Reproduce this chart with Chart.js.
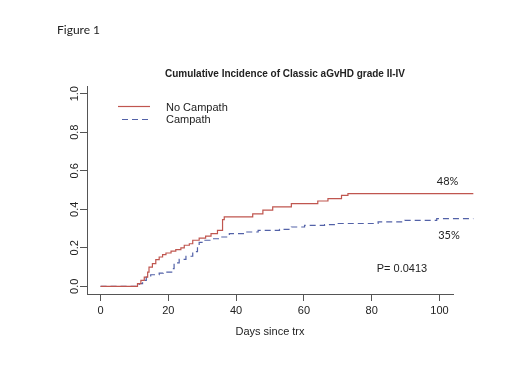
<!DOCTYPE html>
<html>
<head>
<meta charset="utf-8">
<script src="https://cdn.jsdelivr.net/npm/chart.js@4/dist/chart.umd.min.js"></script>
<style>
  html, body { margin: 0; padding: 0; background: #fff; }
  #wrap { width: 520px; height: 390px; }
</style>
</head>
<body>
<div id="wrap"><canvas id="ci-chart" width="520" height="390"></canvas></div>
<script>
// step points: day, cumulative incidence after the jump
const noCampathDays = [0, 10.9, 11.9, 12.9, 13.9, 14.3, 15.3, 16.3, 17.3, 18.3, 19.3, 20.8, 22.2, 23.7, 24.7, 26.2, 27.2, 29.1, 31.0, 32.6, 34.5, 36.0, 36.5, 44.9, 47.9, 50.8, 56.3, 64.1, 67.1, 71.1, 73.0, 110];
const noCampathCI   = [0, 0.014, 0.031, 0.048, 0.074, 0.100, 0.118, 0.138, 0.152, 0.164, 0.173, 0.183, 0.190, 0.199, 0.213, 0.221, 0.239, 0.250, 0.260, 0.273, 0.290, 0.346, 0.360, 0.376, 0.396, 0.412, 0.429, 0.443, 0.455, 0.472, 0.481, 0.481];

const campathDays = [0, 11.4, 12.4, 13.5, 14.8, 17.3, 18.5, 21.2, 21.7, 23.2, 25.2, 27.2, 28.6, 29.1, 30.8, 33.1, 35.1, 38.0, 42.5, 46.5, 52.8, 56.3, 60.2, 66.1, 70.1, 81.9, 89.8, 99.2, 110];
const campathCI   = [0, 0.014, 0.031, 0.048, 0.060, 0.068, 0.074, 0.092, 0.122, 0.140, 0.156, 0.180, 0.205, 0.228, 0.239, 0.247, 0.256, 0.273, 0.282, 0.290, 0.296, 0.308, 0.316, 0.320, 0.326, 0.334, 0.342, 0.351, 0.351];

const xTicks = [0, 20, 40, 60, 80, 100];
const yTicks = [0, 0.2, 0.4, 0.6, 0.8, 1.0];

const seriesNames = ['No Campath', 'Campath'];
const endLabels = ['48%', '35%'];
const pValueText = 'P= 0.0413';
const figureLabel = 'Figure 1';
const chartTitle = 'Cumulative Incidence of Classic aGvHD grade II-IV';

const RED = '#c0564f';
const BLUE = '#5362a8';
const AXIS = '#555';

const toPts = (xs, ys) => xs.map((x, i) => ({ x, y: ys[i] }));

/* ----- text, legend and labels drawn on top ----- */
const decor = {
  id: 'decor',
  afterDraw(chart) {
    const { ctx, scales: { x, y } } = chart;
    ctx.save();
    ctx.fillStyle = '#222';
    ctx.textBaseline = 'middle';

    ctx.font = '12px Lato, "Open Sans", sans-serif';
    ctx.textAlign = 'left';
    ctx.fillText(figureLabel, 57, 30);

    ctx.font = 'bold 10px "Liberation Sans", Arial, sans-serif';
    ctx.textAlign = 'center';
    ctx.fillText(chartTitle, 285, 74);

    // legend
    ctx.lineWidth = 1.2;
    ctx.strokeStyle = RED;
    ctx.beginPath(); ctx.moveTo(118, 106.5); ctx.lineTo(150, 106.5); ctx.stroke();
    ctx.strokeStyle = BLUE;
    ctx.setLineDash([6, 4]);
    ctx.beginPath(); ctx.moveTo(122, 119.5); ctx.lineTo(150, 119.5); ctx.stroke();
    ctx.setLineDash([]);
    ctx.font = '11px "Liberation Sans", Arial, sans-serif';
    ctx.textAlign = 'left';
    ctx.fillText(seriesNames[0], 166, 108);
    ctx.fillText(seriesNames[1], 166, 120);

    // end-of-curve percentages and p value
    ctx.font = '11px Lato, "Open Sans", sans-serif';
    ctx.textAlign = 'center';
    ctx.fillText(endLabels[0], x.getPixelForValue(102.4), y.getPixelForValue(0.545));
    ctx.fillText(endLabels[1], x.getPixelForValue(102.8), y.getPixelForValue(0.265));
    ctx.font = '11px "Liberation Sans", Arial, sans-serif';
    ctx.textAlign = 'left';
    ctx.fillText(pValueText, x.getPixelForValue(81.5), y.getPixelForValue(0.088));
    ctx.restore();
  }
};

Chart.defaults.font.family = '"Liberation Sans", Arial, sans-serif';
Chart.defaults.font.size = 11;
Chart.defaults.color = '#222';

new Chart(document.getElementById('ci-chart'), {
  type: 'line',
  data: {
    datasets: [
      {
        label: seriesNames[0], data: toPts(noCampathDays, noCampathCI),
        borderColor: RED, borderWidth: 1.2, stepped: true,
        pointRadius: 0, fill: false, clip: false
      },
      {
        label: seriesNames[1], data: toPts(campathDays, campathCI),
        borderColor: BLUE, borderWidth: 1.2, borderDash: [6, 4], stepped: true,
        pointRadius: 0, fill: false, clip: false
      }
    ]
  },
  options: {
    responsive: false,
    animation: false,
    layout: { padding: { left: 0, right: 67, top: 86, bottom: 0 } },
    plugins: { legend: { display: false }, tooltip: { enabled: false } },
    scales: {
      x: {
        type: 'linear', min: -4, max: 104,
        afterBuildTicks: s => { s.ticks = xTicks.map(v => ({ value: v })); },
        afterFit: s => { s.height = 96; },
        grid: { drawOnChartArea: false, tickLength: 7, color: AXIS },
        border: { display: true, color: AXIS },
        ticks: { padding: 3, color: '#222' },
        title: { display: true, text: 'Days since trx', padding: { top: 0, bottom: 51 }, color: '#222' }
      },
      y: {
        type: 'linear', min: -0.04, max: 1.04,
        afterBuildTicks: s => { s.ticks = yTicks.map(v => ({ value: v })); },
        afterFit: s => { s.width = 87; },
        grid: { drawOnChartArea: false, tickLength: 7, color: AXIS },
        border: { display: true, color: AXIS },
        ticks: {
          minRotation: 90, maxRotation: 90, crossAlign: 'center', padding: -3, color: '#222',
          callback: v => v.toFixed(1)
        }
      }
    }
  },
  plugins: [decor]
});
</script>
</body>
</html>
